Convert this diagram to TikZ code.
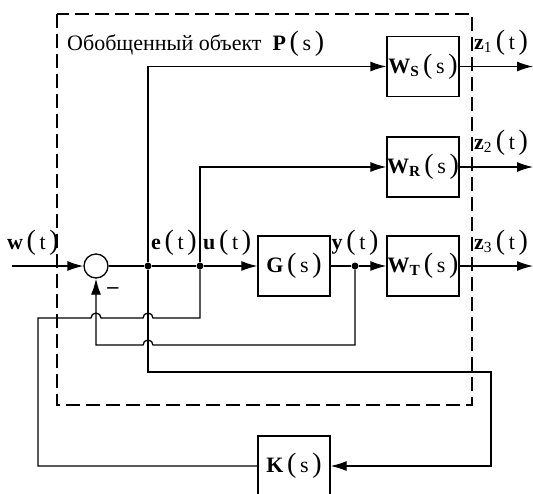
\documentclass[tikz,border=0pt]{standalone}
\usepackage{fontspec}
\setmainfont{Liberation Serif}
\usetikzlibrary{arrows.meta, calc}

\newcommand{\lpar}{{\fontsize{28}{28}\selectfont(}}
\newcommand{\rpar}{{\fontsize{28}{28}\selectfont)}}
\newcommand{\fnarg}[2]{#1\,\lpar\,#2\,\rpar}

\begin{document}
\begin{tikzpicture}[
    x=1pt, y=1pt,
    font=\fontsize{22}{26}\selectfont,
    block/.style={
        rectangle, draw, line width=1.3pt,
        minimum width=72pt, minimum height=60pt, inner sep=0pt
    },
    sumnode/.style={circle, draw, line width=1.3pt, minimum size=24pt, inner sep=0pt},
    dot/.style={circle, fill, minimum size=7pt, inner sep=0pt},
    lbl/.style={inner sep=0pt},
    arr/.style={-{Latex[length=16pt, width=10pt]}, line width=1.3pt},
    wire/.style={line width=1.3pt},
]
\useasboundingbox (0,0) rectangle (533,-493);

% Generalized plant boundary
\draw[dash pattern=on 14pt off 6pt, line width=1.3pt] (57,-14) rectangle (472,-405);
\node[lbl, anchor=west] (title) at (67,-44) {Обобщенный объект~~\fnarg{\textbf{P}}{s}};

% Blocks
\node[sumnode] (sum) at (96,-266) {};
\node[block] (G)  at (294,-266)   {\fnarg{\textbf{G}}{s}};
\node[block] (WS) at (423,-66.5)  {\fnarg{\textbf{W}\textsubscript{\textbf{S}}}{s}};
\node[block] (WR) at (423,-167)   {\fnarg{\textbf{W}\textsubscript{\textbf{R}}}{s}};
\node[block] (WT) at (423,-266)   {\fnarg{\textbf{W}\textsubscript{\textbf{T}}}{s}};
\node[block] (K)  at (294,-466)   {\fnarg{\textbf{K}}{s}};

% Branch points
\node[dot] (e) at (148,-266) {};
\node[dot] (u) at (200,-266) {};
\node[dot] (y) at (355,-266) {};

% Helper coordinates
\coordinate (win)  at (12,-266);
\coordinate (zend) at (533,0);
\coordinate (kl)   at (38,-318);
\coordinate (fb)   at (0,-345);
\coordinate (eb)   at (491,-372);

% Signal labels
\node[lbl] (wlbl) at (33,-243) {\fnarg{\textbf{w}}{t}};
\node[lbl, anchor=west] (elbl) at (151,-243) {\fnarg{\textbf{e}}{t}};
\node[lbl, anchor=west] (ulbl) at (203,-243) {\fnarg{\textbf{u}}{t}};
\node[lbl] (ylbl) at (355,-243) {\fnarg{\textbf{y}}{t}};
\node[lbl, anchor=west] (z1lbl) at (474,-43)  {\fnarg{\textbf{z}\textsubscript{1}}{t}};
\node[lbl, anchor=west] (z2lbl) at (474,-143) {\fnarg{\textbf{z}\textsubscript{2}}{t}};
\node[lbl, anchor=west] (z3lbl) at (474,-243) {\fnarg{\textbf{z}\textsubscript{3}}{t}};
\node[lbl] (minus) at (113,-291) {\textbf{\char"2013}};

% Main loop
\draw[arr] (win) -- (sum.west);
\draw[wire] (sum.east) -- (e) -- (u);
\draw[arr] (u) -- (G.west);
\draw[wire] (G.east) -- (y);
\draw[arr] (y) -- (WT.west);

% Weighted outputs
\draw[arr] (e) |- (WS.west);
\draw[arr] (u) |- (WR.west);
\draw[arr] (WS.east) -- (WS.east -| zend);
\draw[arr] (WR.east) -- (WR.east -| zend);
\draw[arr] (WT.east) -- (WT.east -| zend);

% Feedback of y to the summing junction
\draw[arr] (y) -- (y |- fb) -- ($(e |- fb)+(5,0)$)
    arc[start angle=0, end angle=180, radius=5] -- (sum |- fb) -- (sum.south);

% Measured signal to the controller
\draw[arr] (e) |- (eb) |- (K.east);

% Controller output back to u
\draw[wire] (K.west) -| (kl) -- ($(sum.center |- kl)+(-5,0)$)
    arc[start angle=180, end angle=0, radius=5] -- ($(e |- kl)+(-5,0)$)
    arc[start angle=180, end angle=0, radius=5] -| (u);

\end{tikzpicture}
\end{document}
